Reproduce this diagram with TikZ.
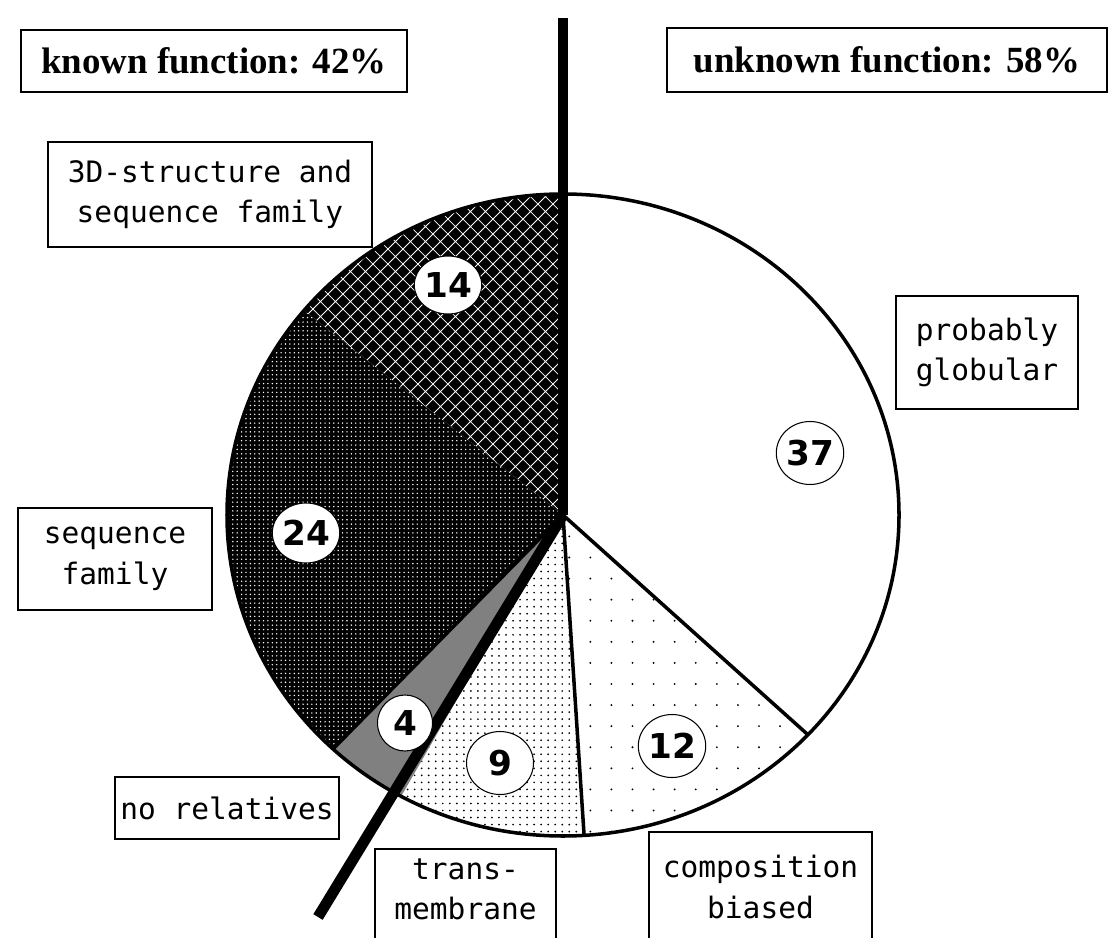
\documentclass[tikz,border=0pt]{standalone}
\usepackage{fontspec}
\usetikzlibrary{shapes.geometric,patterns.meta}
\newfontfamily\labelfont{DejaVu Sans Mono}
\newfontfamily\numfont{DejaVu Sans}
\newfontfamily\headfont{Liberation Serif}

% fill patterns of the slices
\tikzdeclarepattern{name=finedots, type=uncolored,
  bottom left={(-0.5pt,-0.5pt)}, top right={(0.5pt,0.5pt)},
  tile size={(2.5pt,2.5pt)},
  code={\fill (0pt,0pt) circle (0.45pt);}}
\tikzdeclarepattern{name=middots, type=uncolored,
  bottom left={(-0.7pt,-0.7pt)}, top right={(0.7pt,0.7pt)},
  tile size={(4pt,4pt)},
  code={\fill (0pt,0pt) circle (0.55pt);}}
\tikzdeclarepattern{name=sparsedots, type=uncolored,
  bottom left={(-0.7pt,-0.7pt)}, top right={(0.7pt,0.7pt)},
  tile size={(12pt,12pt)},
  code={\fill (0pt,0pt) circle (0.6pt);}}
\tikzdeclarepattern{name=diamonds, type=uncolored,
  bottom left={(0pt,0pt)}, top right={(8.5pt,8.5pt)},
  tile size={(8.5pt,8.5pt)},
  code={\draw[line width=0.45pt] (0pt,0pt) -- (8.5pt,8.5pt) (0pt,8.5pt) -- (8.5pt,0pt);}}

\begin{document}
\begin{tikzpicture}[x=0.02cm, y=0.02cm,
    box/.style={draw, line width=1pt, inner sep=0pt, align=center,
      font=\labelfont\fontsize{16.8}{23}\selectfont},
    headbox/.style={draw, line width=1pt, inner sep=0pt,
      font=\headfont\bfseries\fontsize{21}{25}\selectfont},
    num/.style={ellipse, draw, fill=white, line width=0.6pt, inner sep=0pt,
      minimum width=1.34cm, minimum height=1.26cm,
      font=\numfont\bfseries\fontsize{19.5}{22}\selectfont},
    rim/.style={line width=2pt},
    divider/.style={line width=6.2pt}]
    % picture frame
    \clip (0,0) rectangle (1111,937);
    \coordinate (ctr) at (563,422);
    \coordinate (top) at (563,919);
    \coordinate (tip) at (318,20);
    \coordinate (floor) at (0,-20);

    % Slices, clockwise from the top
    % probably globular (37)
    \fill[white] (ctr) -- ++(90:336 and 321) arc[start angle=90, end angle=-43.2, x radius=336, y radius=321] -- cycle;
    % composition biased (12)
    \fill[pattern=sparsedots, pattern color=black] (ctr) -- ++(-43.2:336 and 321) arc[start angle=-43.2, end angle=-86.4, x radius=336, y radius=321] -- cycle;
    % transmembrane (9)
    \fill[pattern=middots, pattern color=black] (ctr) -- ++(-86.4:336 and 321) arc[start angle=-86.4, end angle=-118.8, x radius=336, y radius=321] -- cycle;
    % no relatives (4)
    \fill[black!50] (ctr) -- ++(-118.8:336 and 321) arc[start angle=-118.8, end angle=-133.2, x radius=336, y radius=321] -- cycle;
    % sequence family (24)
    \fill[black] (ctr) -- ++(-133.2:336 and 321) arc[start angle=-133.2, end angle=-219.6, x radius=336, y radius=321] -- cycle;
    \fill[pattern=finedots, pattern color=white] (ctr) -- ++(-133.2:336 and 321) arc[start angle=-133.2, end angle=-219.6, x radius=336, y radius=321] -- cycle;
    % 3D-structure and sequence family (14)
    \fill[black] (ctr) -- ++(-219.6:336 and 321) arc[start angle=-219.6, end angle=-270, x radius=336, y radius=321] -- cycle;
    \fill[pattern=diamonds, pattern color=white] (ctr) -- ++(-219.6:336 and 321) arc[start angle=-219.6, end angle=-270, x radius=336, y radius=321] -- cycle;

    % slice edges and rim
    \draw[rim] (ctr) -- ++(-43.2:336 and 321);
    \draw[rim] (ctr) -- ++(-86.4:336 and 321);
    \draw[rim] (ctr) -- ++(-133.2:336 and 321);
    \draw[rim] (ctr) ellipse[x radius=336, y radius=321];

    % known / unknown divider
    \draw[divider] (top) -- (ctr);
    \draw[divider] (ctr) -- (tip);

    % percentages
    \node[num] (n37) at (810,484) {37};
    \node[num] (n12) at (672,191) {12};
    \node[num] (n9) at (500,174) {9};
    \node[num, minimum width=1.1cm, minimum height=1.12cm] (n4) at (405,214) {4};
    \node[num, minimum width=1.26cm, minimum height=1.2cm] (n24) at (306,404) {24};
    \node[num, minimum width=1.18cm, minimum height=1.16cm] (n14) at (448,652) {14};

    % headings
    \node[headbox, minimum width=7.72cm, minimum height=1.24cm] (known) at (214,876) {known function: 42\%};
    \node[headbox, minimum width=8.8cm, minimum height=1.28cm] (unknown) at (887,877) {unknown function: 58\%};

    % slice labels
    \node[box, minimum width=6.48cm, minimum height=2.1cm] (struct) at (210,742.5) {3D-structure and\\sequence family};
    \node[box, minimum width=3.64cm, minimum height=2.26cm] (glob) at (987,584.5) {probably\\globular};
    \node[box, minimum width=3.88cm, minimum height=2.04cm] (seqfam) at (115,378) {sequence\\family};
    \node[box, minimum width=4.48cm, minimum height=1.24cm] (norel) at (227,129) {no relatives};
    \node[box, minimum width=4.46cm, minimum height=2.2cm] (comp) at (760.5,50) {composition\\biased};
    \node[box, draw=none, minimum width=3.58cm, minimum height=1.58cm, anchor=north] (trans) at (465.5,88) {trans-\\membrane};
    \draw[line width=1pt] (trans.north west) rectangle (trans.east |- floor);
\end{tikzpicture}
\end{document}
